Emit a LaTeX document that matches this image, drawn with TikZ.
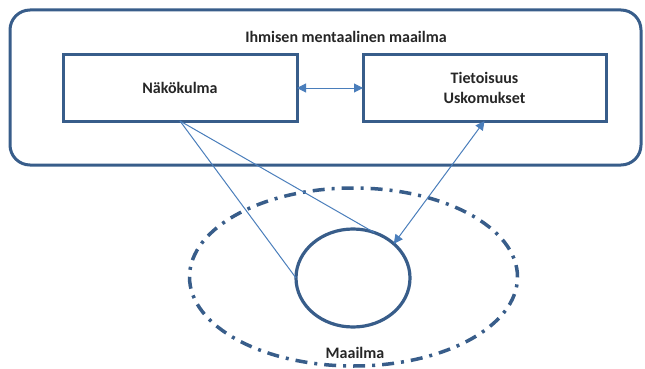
\documentclass[tikz,border=0pt]{standalone}
\usepackage{fontspec}
\setmainfont{Carlito}
\usetikzlibrary{shapes.geometric,arrows.meta}
\definecolor{frameblue}{RGB}{56,93,138}
\definecolor{linkblue}{RGB}{74,126,187}
\tikzset{
  boxstyle/.style={draw=frameblue,line width=3pt,fill=white,inner sep=0pt,outer sep=0pt,align=center},
  lbl/.style={font=\fontsize{16}{20}\selectfont\bfseries,text=black!85,inner sep=0pt},
  link/.style={draw=linkblue,line width=1pt},
  tips/.style={{Triangle[length=9pt,width=9pt]}-{Triangle[length=9pt,width=9pt]}}
}
\begin{document}
\begin{tikzpicture}[x=1pt,y=-1pt]
\useasboundingbox (0,0) rectangle (645,369);
\node[boxstyle,rounded corners=20pt,minimum width=631pt,minimum height=155pt] (mind) at (325.5,87.5) {};
\node[lbl] (title) at (346,37) {Ihmisen mentaalinen maailma};
\node[boxstyle,minimum width=234pt,minimum height=66pt,lbl] (nako) at (180,88) {Näkökulma};
\node[boxstyle,minimum width=243pt,minimum height=66pt,lbl] (tieto) at (484.5,88) {Tietoisuus\\Uskomukset};
\node[draw=frameblue,ellipse,line width=3.5pt,dash pattern=on 12pt off 7pt on 3pt off 7pt,minimum width=328pt,minimum height=178pt,inner sep=0pt,outer sep=0pt] (world) at (353.5,277) {};
\node[draw=frameblue,ellipse,line width=3.2pt,minimum width=114pt,minimum height=98pt,inner sep=0pt,outer sep=0pt] (self) at (353,278) {};
\node[lbl] (maailma) at (355,353) {Maailma};
\draw[link,tips] (nako.east) -- (tieto.west);
\draw[link] (nako.south) -- (self.west);
\draw[link] (nako.south) -- (self.65);
\draw[link,tips] (tieto.south) -- (self.40);
\end{tikzpicture}
\end{document}
